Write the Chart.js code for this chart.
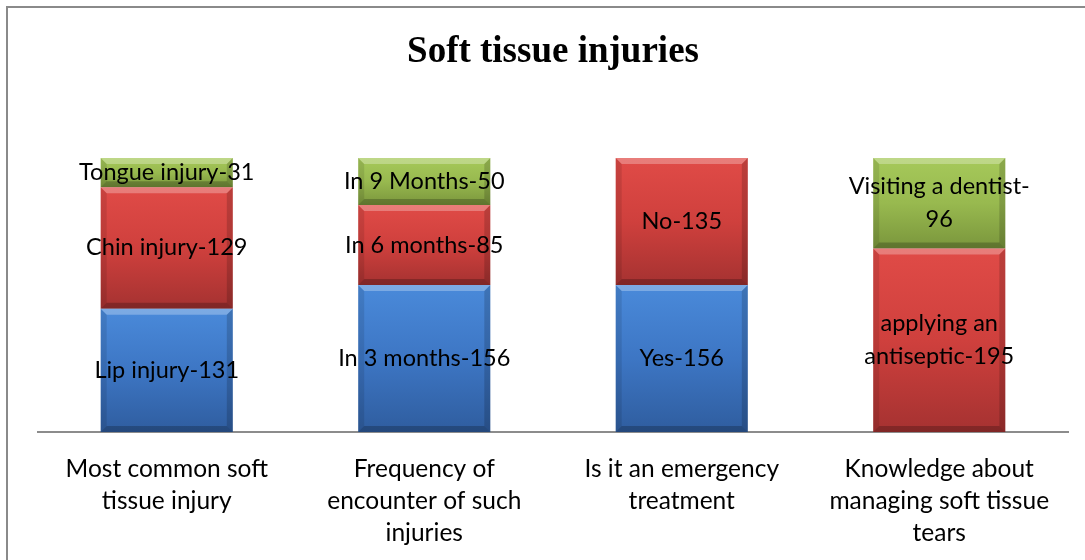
<!DOCTYPE html>
<html>
<head>
<meta charset="utf-8">
<script src="https://cdn.jsdelivr.net/npm/chart.js@4/dist/chart.umd.min.js"></script>
<style>
  html, body { margin: 0; padding: 0; background: #fff; }
  #wrap { position: relative; width: 1085px; height: 560px; overflow: hidden; }
  #frame { position: absolute; left: 6px; top: 6px; width: 1200px; height: 700px;
           border-left: 2px solid #8a8a8a; border-top: 2px solid #8a8a8a; pointer-events: none; }
  canvas { position: absolute; left: 0; top: 0; }
</style>
</head>
<body>
<div id="wrap">
  <canvas id="grafico" width="1085" height="562"></canvas>
  <div id="frame"></div>
</div>
<script>
// categorias (lineas del eje x)
const categorias = [
    ["Most common soft", "tissue injury"],
    ["Frequency of", "encounter of such", "injuries"],
    ["Is it an emergency", "treatment"],
    ["Knowledge about", "managing soft tissue", "tears"]
];

// valores por serie (abajo, medio, arriba)
const valoresAzul = [131, 156, 156, 0];
const valoresRojo = [129, 85, 135, 195];
const valoresVerde = [31, 50, 0, 96];

// nombres de cada segmento
const nombresAzul = ["Lip injury", "In 3 months", "Yes", ""];
const nombresRojo = ["Chin injury", "In 6 months", "No", "applying an antiseptic"];
const nombresVerde = ["Tongue injury", "In 9 Months", "", "Visiting a dentist"];

const totalMax = 291;

const colores = {
    azul: ["#4a8ada", "#3d76c4", "#2f5d9f"],
    rojo: ["#e04b47", "#cf403d", "#a53231"],
    verde: ["#a6c95a", "#98b94f", "#7a963c"]
};

function degradado(paleta) {
    return function (c) {
        const chart = c.chart;
        const y = chart.scales && chart.scales.y;
        if (!chart.chartArea || !y || c.dataIndex === undefined) return paleta[1];
        let abajo = 0;
        for (let i = 0; i < c.datasetIndex; i++) abajo += chart.data.datasets[i].data[c.dataIndex];
        const v = chart.data.datasets[c.datasetIndex].data[c.dataIndex];
        const yBase = y.getPixelForValue(abajo);
        const yTop = y.getPixelForValue(abajo + v);
        if (!isFinite(yBase) || !isFinite(yTop) || yBase === yTop) return paleta[1];
        const g = chart.ctx.createLinearGradient(0, yTop, 0, yBase);
        g.addColorStop(0, paleta[0]);
        g.addColorStop(0.5, paleta[1]);
        g.addColorStop(1, paleta[2]);
        return g;
    };
}

function partirTexto(ctx, texto, ancho) {
    const partes = texto.split(/(?<=[ -])/);
    const lineas = [];
    let actual = "";
    partes.forEach(p => {
        const prueba = actual + p;
        if (actual && ctx.measureText(prueba.trim()).width > ancho) {
            lineas.push(actual.trim());
            actual = p;
        } else {
            actual = prueba;
        }
    });
    if (actual) lineas.push(actual.trim());
    return lineas;
}

// bisel y etiquetas de cada segmento
const pluginBisel = {
    id: "bisel",
    afterDatasetsDraw(chart) {
        const ctx = chart.ctx;
        const b = 6;
        chart.data.datasets.forEach((ds, di) => {
            chart.getDatasetMeta(di).data.forEach((el, i) => {
                if (!ds.data[i]) return;
                const p = el.getProps(["x", "y", "base", "width"], true);
                const l = p.x - p.width / 2, r = p.x + p.width / 2;
                const t = Math.min(p.y, p.base), bt = Math.max(p.y, p.base);
                ctx.save();
                ctx.fillStyle = "rgba(255,255,255,0.28)";
                ctx.beginPath();
                ctx.moveTo(l, t); ctx.lineTo(r, t); ctx.lineTo(r - b, t + b); ctx.lineTo(l + b, t + b);
                ctx.closePath(); ctx.fill();
                ctx.fillStyle = "rgba(0,0,0,0.10)";
                ctx.beginPath();
                ctx.moveTo(l, t); ctx.lineTo(l + b, t + b); ctx.lineTo(l + b, bt - b); ctx.lineTo(l, bt);
                ctx.closePath(); ctx.fill();
                ctx.fillStyle = "rgba(0,0,0,0.16)";
                ctx.beginPath();
                ctx.moveTo(r, t); ctx.lineTo(r - b, t + b); ctx.lineTo(r - b, bt - b); ctx.lineTo(r, bt);
                ctx.closePath(); ctx.fill();
                ctx.fillStyle = "rgba(0,0,0,0.22)";
                ctx.beginPath();
                ctx.moveTo(l, bt); ctx.lineTo(r, bt); ctx.lineTo(r - b, bt - b); ctx.lineTo(l + b, bt - b);
                ctx.closePath(); ctx.fill();
                ctx.restore();
            });
        });
        ctx.save();
        ctx.font = "23.5px Lato";
        ctx.fillStyle = "#000";
        ctx.textAlign = "center";
        ctx.textBaseline = "middle";
        chart.data.datasets.forEach((ds, di) => {
            chart.getDatasetMeta(di).data.forEach((el, i) => {
                if (!ds.data[i]) return;
                const p = el.getProps(["x", "y", "base"], true);
                const texto = ds.nombres[i] + "-" + ds.data[i];
                const lineas = partirTexto(ctx, texto, 195);
                const cy = (p.y + p.base) / 2;
                const alto = 33;
                lineas.forEach((ln, k) => {
                    ctx.fillText(ln, p.x, cy + (k - (lineas.length - 1) / 2) * alto);
                });
            });
        });
        ctx.restore();
    }
};

const ctx = document.getElementById("grafico").getContext("2d");
new Chart(ctx, {
    type: "bar",
    data: {
        labels: categorias,
        datasets: [
            { data: valoresAzul, nombres: nombresAzul, backgroundColor: degradado(colores.azul) },
            { data: valoresRojo, nombres: nombresRojo, backgroundColor: degradado(colores.rojo) },
            { data: valoresVerde, nombres: nombresVerde, backgroundColor: degradado(colores.verde) }
        ]
    },
    options: {
        responsive: false,
        animation: false,
        devicePixelRatio: 1,
        layout: { padding: { left: 38, right: 17, top: 0, bottom: 0 } },
        datasets: { bar: { categoryPercentage: 1, barPercentage: 0.513, borderWidth: 0 } },
        scales: {
            x: {
                stacked: true,
                grid: { display: false },
                border: { display: true, color: "#8c8c8c", width: 2 },
                ticks: {
                    color: "#000",
                    font: { family: "Lato", size: 24.5, lineHeight: 32 / 24.5 },
                    padding: 13,
                    maxRotation: 0,
                    autoSkip: false
                }
            },
            y: { stacked: true, display: false, min: 0, max: totalMax }
        },
        plugins: {
            legend: { display: false },
            tooltip: { enabled: false },
            title: {
                display: true,
                text: "Soft tissue injuries",
                color: "#000",
                font: { family: "Liberation Serif", size: 37, weight: "bold", lineHeight: 1.2 },
                padding: { top: 30, bottom: 83.6 }
            }
        }
    },
    plugins: [pluginBisel]
});
</script>
</body>
</html>
